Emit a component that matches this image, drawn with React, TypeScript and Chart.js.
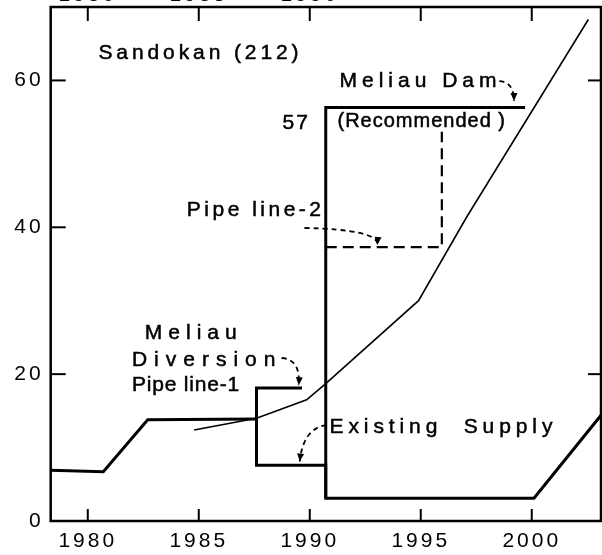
import React, { useEffect, useRef } from "react";
import { Chart, registerables } from "chart.js";

Chart.register(...registerables);

// ---- data ----
const xTickYears = [1980, 1985, 1990, 1995, 2000];
const topLabelYears = [1980, 1985, 1990];
const yTickValues = [0, 20, 40, 60];
const rightTickValues = [20, 60];
const xRange = [1978.33, 2003.12];
const yRange = [0, 70];

const existingYears = [1978.33, 1980.7, 1982.7, 1987.6];
const existingValues = [6.9, 6.7, 13.8, 13.9];

const supplyYears = [1989.65, 1987.6, 1987.6, 1990.72, 1990.72, 2000.1, 2003.12];
const supplyValues = [18.1, 18.1, 7.6, 7.6, 3.1, 3.1, 14.4];

const damYears = [1990.72, 1990.72, 1999.7];
const damValues = [3.1, 56.3, 56.3];

const pipe2Years = [1990.72, 1995.95, 1995.95];
const pipe2Values = [37.3, 37.3, 53];

const demandYears = [1984.79, 1987.6, 1989.86, 1990.72, 1994.9, 1997.07, 2002.55];
const demandValues = [12.4, 14.0, 16.5, 18.7, 30.0, 41.4, 68.3];

// ---- annotation layout (data coordinates) ----
const FONT = '"Liberation Sans", Arial, sans-serif';
const notes = [
  { text: "Sandokan (212)", x: 1980.48, y: 63.7, size: 21, spacing: 3.9 },
  { text: "Meliau Dam", x: 1991.34, y: 59.9, size: 21, spacing: 5 },
  { text: "57", x: 1988.77, y: 54.2, size: 21, spacing: 2 },
  { text: "(Recommended )", x: 1991.25, y: 54.4, size: 20, spacing: 1 },
  { text: "Pipe line-2", x: 1984.46, y: 42.35, size: 21, spacing: 3.5 },
  { text: "Meliau", x: 1982.57, y: 25.6, size: 21, spacing: 6 },
  { text: "Diversion", x: 1981.99, y: 21.9, size: 21, spacing: 7 },
  { text: "Pipe line-1", x: 1981.99, y: 18.5, size: 21, spacing: 0.8 },
  { text: "Existing  Supply", x: 1990.89, y: 12.8, size: 21, spacing: 4.9 },
];
// [start, control, end] for dashed curved arrows
const arrows = [
  [[1998.54, 59.9], [1999.2, 59.8], [1999.2, 57.2]],
  [[1989.76, 39.9], [1993.1, 39.7], [1993.05, 37.6]],
  [[1988.73, 22.2], [1989.6, 22.0], [1989.5, 18.5]],
  [[1990.75, 13.07], [1989.7, 12.6], [1989.55, 8.1]],
];

const toPts = (xs: number[], ys: number[]) => xs.map((x, i) => ({ x, y: ys[i] }));

const zeroPad = (s: any) => {
  s.paddingTop = 0;
  s.paddingBottom = 0;
  s.paddingLeft = 0;
  s.paddingRight = 0;
};

const sketchPlugin = {
  id: "sketch",
  beforeDraw(chart: any) {
    chart.ctx.letterSpacing = "3px";
  },
  afterDatasetsDraw(chart: any) {
    const ctx = chart.ctx as CanvasRenderingContext2D;
    const { left, right, top, bottom } = chart.chartArea;
    const xs = chart.scales.x;
    const ys = chart.scales.y;
    const X = (v: number) => xs.getPixelForValue(v);
    const Y = (v: number) => ys.getPixelForValue(v);
    ctx.save();
    (ctx as any).letterSpacing = "0px";
    ctx.strokeStyle = "#000";
    ctx.fillStyle = "#000";
    ctx.lineWidth = 2.5;
    ctx.strokeRect(left, top, right - left, bottom - top);
    const seg = (x1: number, y1: number, x2: number, y2: number) => {
      ctx.beginPath();
      ctx.moveTo(x1, y1);
      ctx.lineTo(x2, y2);
      ctx.stroke();
    };
    ctx.lineWidth = 2;
    xTickYears.forEach((v) => {
      const p = X(v);
      seg(p, bottom, p, bottom - 12);
      seg(p, top, p, top + 14);
    });
    yTickValues
      .filter((v) => v > yRange[0])
      .forEach((v) => seg(left, Y(v), left + 15, Y(v)));
    rightTickValues.forEach((v) => seg(right, Y(v), right - 13, Y(v)));

    // dashed arrows
    ctx.lineWidth = 1.8;
    arrows.forEach(([s, c, e]) => {
      const sx = X(s[0]), sy = Y(s[1]);
      const cx = X(c[0]), cy = Y(c[1]);
      const ex = X(e[0]), ey = Y(e[1]);
      ctx.setLineDash([5, 4]);
      ctx.beginPath();
      ctx.moveTo(sx, sy);
      ctx.quadraticCurveTo(cx, cy, ex, ey);
      ctx.stroke();
      ctx.setLineDash([]);
      const ang = Math.atan2(ey - cy, ex - cx);
      const L = 8, W = 3.5;
      ctx.beginPath();
      ctx.moveTo(ex, ey);
      ctx.lineTo(ex - L * Math.cos(ang) + W * Math.sin(ang), ey - L * Math.sin(ang) - W * Math.cos(ang));
      ctx.lineTo(ex - L * Math.cos(ang) - W * Math.sin(ang), ey - L * Math.sin(ang) + W * Math.cos(ang));
      ctx.closePath();
      ctx.fill();
    });

    // text notes
    ctx.textAlign = "left";
    ctx.textBaseline = "middle";
    ctx.lineWidth = 0.5;
    notes.forEach((n) => {
      ctx.font = `${n.size}px ${FONT}`;
      (ctx as any).letterSpacing = `${n.spacing}px`;
      ctx.fillText(n.text, X(n.x), Y(n.y));
      ctx.strokeText(n.text, X(n.x), Y(n.y));
    });
    ctx.restore();
  },
  afterDraw(chart: any) {
    chart.ctx.letterSpacing = "0px";
  },
};

export default function App() {
  const canvasRef = useRef<HTMLCanvasElement | null>(null);

  useEffect(() => {
    const canvas = canvasRef.current;
    if (!canvas) return;
    const lineDs = (label: string, xs: number[], ys: number[], width: number, dash: number[] = []) => ({
      label,
      data: toPts(xs, ys),
      borderColor: "#000",
      backgroundColor: "#000",
      borderWidth: width,
      borderDash: dash,
      pointRadius: 0,
      fill: false,
      tension: 0,
    });
    const tickFont = { family: FONT, size: 21 };
    const chart = new Chart(canvas, {
      type: "line",
      data: {
        datasets: [
          lineDs("Existing supply", existingYears, existingValues, 3),
          lineDs("Pipe line-1 / Existing supply", supplyYears, supplyValues, 3),
          lineDs("Meliau Dam (Recommended)", damYears, damValues, 3),
          lineDs("Pipe line-2", pipe2Years, pipe2Values, 2.2, [11, 6]),
          lineDs("Demand", demandYears, demandValues, 1.6),
        ],
      },
      options: {
        animation: false,
        responsive: false,
        devicePixelRatio: 1,
        layout: { padding: { left: 0, right: 1, top: 0, bottom: 0 } },
        plugins: { legend: { display: false }, tooltip: { enabled: false } },
        scales: {
          x: {
            type: "linear",
            position: "bottom",
            min: xRange[0],
            max: xRange[1],
            afterBuildTicks: (s: any) => {
              s.ticks = xTickYears.map((v) => ({ value: v }));
            },
            afterFit: (s: any) => {
              s.height = 34;
              zeroPad(s);
            },
            grid: { display: false, drawTicks: false },
            border: { display: false },
            ticks: {
              color: "#000",
              font: tickFont,
              padding: 8,
              maxRotation: 0,
              autoSkip: false,
              callback: (v: any) => String(v),
            },
          },
          xTop: {
            type: "linear",
            position: "top",
            min: xRange[0],
            max: xRange[1],
            afterBuildTicks: (s: any) => {
              s.ticks = xTickYears.map((v) => ({ value: v }));
            },
            afterFit: (s: any) => {
              s.height = 7;
              zeroPad(s);
            },
            grid: { display: false, drawTicks: false },
            border: { display: false },
            ticks: {
              color: "#000",
              font: tickFont,
              padding: -1,
              maxRotation: 0,
              autoSkip: false,
              callback: (v: any) => (topLabelYears.includes(v) ? String(v) : ""),
            },
          },
          y: {
            type: "linear",
            position: "left",
            min: yRange[0],
            max: yRange[1],
            afterBuildTicks: (s: any) => {
              s.ticks = yTickValues.map((v) => ({ value: v }));
            },
            afterFit: (s: any) => {
              s.width = 50.7;
              zeroPad(s);
            },
            grid: { display: false, drawTicks: false },
            border: { display: false },
            ticks: {
              color: "#000",
              font: tickFont,
              padding: 7,
              autoSkip: false,
              callback: (v: any) => String(v),
            },
          },
        },
      } as any,
      plugins: [sketchPlugin],
    });
    return () => chart.destroy();
  }, []);

  return (
    <canvas
      ref={canvasRef}
      width={602}
      height={555}
      style={{ position: "fixed", left: 0, top: 0, width: 602, height: 555, background: "#fff" }}
    />
  );
}
